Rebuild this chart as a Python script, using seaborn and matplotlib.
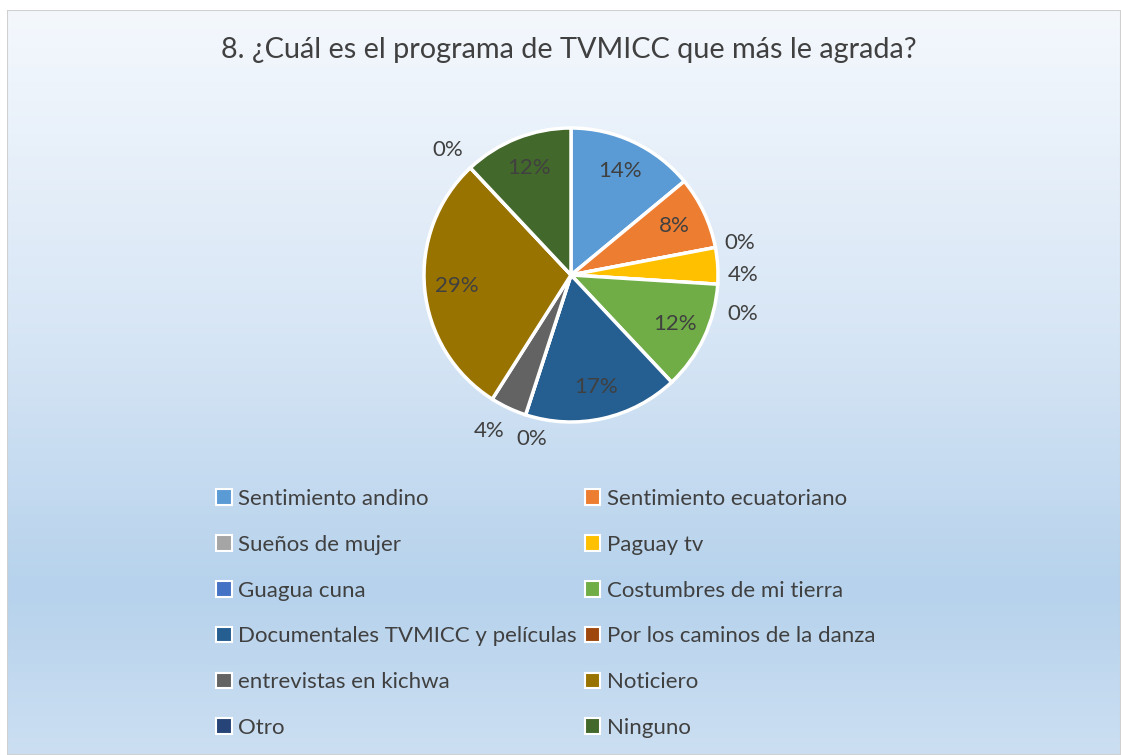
import numpy as np
import seaborn as sns
import matplotlib.pyplot as plt
from matplotlib.patches import Patch, Rectangle
from matplotlib.colors import LinearSegmentedColormap

sns.set_theme(style="white")
plt.rcParams['font.family'] = ['Lato', 'DejaVu Sans']

title = '8. ¿Cuál es el programa de TVMICC que más le agrada?'
programas = ['Sentimiento andino', 'Sentimiento ecuatoriano', 'Sueños de mujer',
             'Paguay tv', 'Guagua cuna', 'Costumbres de mi tierra',
             'Documentales TVMICC y películas', 'Por los caminos de la danza',
             'entrevistas en kichwa', 'Noticiero', 'Otro', 'Ninguno']
porcentajes = [14, 8, 0, 4, 0, 12, 17, 0, 4, 29, 0, 12]
colores = ['#5B9BD5', '#ED7D31', '#A5A5A5', '#FFC000', '#4472C4', '#70AD47',
           '#255E91', '#9E480E', '#636363', '#997300', '#264478', '#43682B']

W, H = 1121, 755
fig = plt.figure(figsize=(W / 100, H / 100), dpi=100)
fig.patch.set_facecolor('white')

# chart area background with vertical gradient
bg = fig.add_axes([7 / W, 0, 1 - 7 / W, 1 - 10 / H])
grad = LinearSegmentedColormap.from_list('bg', [
    (0.0, '#F4F8FD'), (0.45, '#D6E5F5'), (0.78, '#B6D2EC'), (1.0, '#CCDFF2')])
bg.imshow(np.linspace(0, 1, 256)[:, None], aspect='auto', cmap=grad,
          extent=[0, 1, 0, 1], origin='upper')
bg.add_patch(Rectangle((0, 0), 1, 1, transform=bg.transAxes, fill=False,
                       edgecolor='#D0D0D0', linewidth=1.5))
bg.set_axis_off()

fig.text(569 / W, 1 - 50 / H, title, ha='center', va='center',
         fontsize=20.8, color='#404040')

# pie
cx, cy, r = 571, 275, 147
lim = 1.35
side = 2 * lim * r
ax = fig.add_axes([(cx - side / 2) / W, (H - cy - side / 2) / H, side / W, side / H])

wedges, _ = ax.pie(porcentajes, colors=colores, startangle=90, counterclock=False,
                   radius=1, wedgeprops=dict(edgecolor='white', linewidth=2.5))
ax.set_xlim(-lim, lim)
ax.set_ylim(-lim, lim)
ax.set_aspect('equal')
ax.set_axis_off()

# small nudges (points) for the outside labels Excel pushed apart
nudges = {3: (0, -8), 4: (0, -20), 7: (10, 0), 8: (-6, 0), 10: (-4, 0)}
for i, (w, v) in enumerate(zip(wedges, porcentajes)):
    ang = np.deg2rad((w.theta1 + w.theta2) / 2)
    d = 0.78 if v >= 5 else 1.17
    dx, dy = nudges.get(i, (0, 0))
    ax.annotate(f'{v}%', (d * np.cos(ang), d * np.sin(ang)),
                xytext=(dx, dy), textcoords='offset points',
                ha='center', va='center', fontsize=16, color='#404040')

# legend, filled row by row like Excel
order = list(range(0, 12, 2)) + list(range(1, 12, 2))
handles = [Patch(facecolor=colores[i], edgecolor='white', linewidth=1.5) for i in order]
labels = [programas[i] for i in order]
fig.legend(handles, labels, ncol=2, loc='upper left',
           bbox_to_anchor=(216 / W, 1 - 489 / H), frameon=False,
           fontsize=16, labelcolor='#404040', handlelength=0.7, handleheight=0.7,
           handletextpad=0.3, columnspacing=0.35, labelspacing=1.16,
           borderaxespad=0, borderpad=0)

fig.savefig('out.png', dpi=100)
